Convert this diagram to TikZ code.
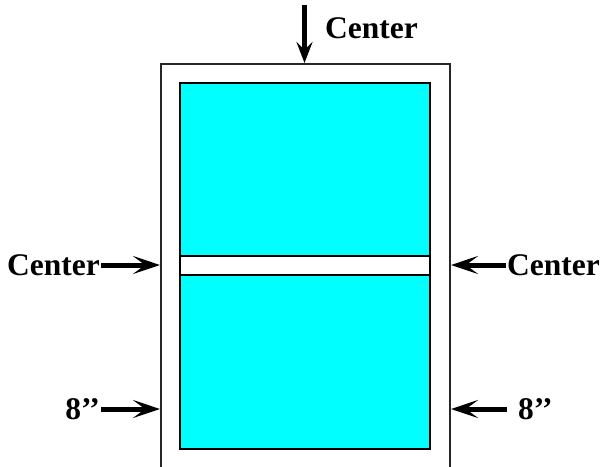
\documentclass[tikz,border=0pt]{standalone}
\usepackage{fontspec}
\setmainfont{Liberation Serif}
\usetikzlibrary{arrows.meta}
\definecolor{aqua}{RGB}{0,255,255}
\begin{document}
\begin{tikzpicture}[x=1pt,y=-1pt,
  lbl/.style={font=\bfseries\fontsize{31.5}{31.5}\selectfont, inner sep=1pt},
  arr/.style={line width=5pt, -{Stealth[length=27pt,width=18pt,inset=12pt]}},
  arrv/.style={line width=5pt, -{Stealth[length=21pt,width=16pt,inset=8pt]}},
  frame/.style={draw=black!85, line width=2pt, inner sep=0pt},
  pane/.style={draw=black, line width=2pt, fill=aqua, inner sep=0pt},
  strip/.style={draw=black, line width=2pt, fill=white, inner sep=0pt}]
\useasboundingbox (0,0) rectangle (601,466);
\node[frame, minimum width=289pt, minimum height=404pt, anchor=north west] (outer) at (160,63) {};
\node[pane, minimum width=250pt, minimum height=366pt, anchor=north west] (glass) at (179,82) {};
\node[strip, minimum width=250pt, minimum height=19pt, anchor=north west] (bar) at (179,255) {};
% labels
\node[lbl, anchor=west] (tc) at (324,28) {Center};
\node[lbl, anchor=east] (lc) at (101,265) {Center};
\node[lbl, anchor=west] (rc) at (506,265) {Center};
\node[lbl, anchor=east] (l8) at (101,409) {8’’};
\node[lbl, anchor=west] (r8) at (517,409) {8’’};
\coordinate (ts) at (304.5,5);
% arrows
\draw[arrv] (ts) -- (outer.north -| ts);
\draw[arr] (lc.east) -- (outer.west |- lc.east);
\draw[arr] (rc.west) -- (outer.east |- rc.west);
\draw[arr] (l8.east) -- (outer.west |- l8.east);
\draw[arr, shorten <=10pt] (r8.west) -- (outer.east |- r8.west);
\end{tikzpicture}
\end{document}
